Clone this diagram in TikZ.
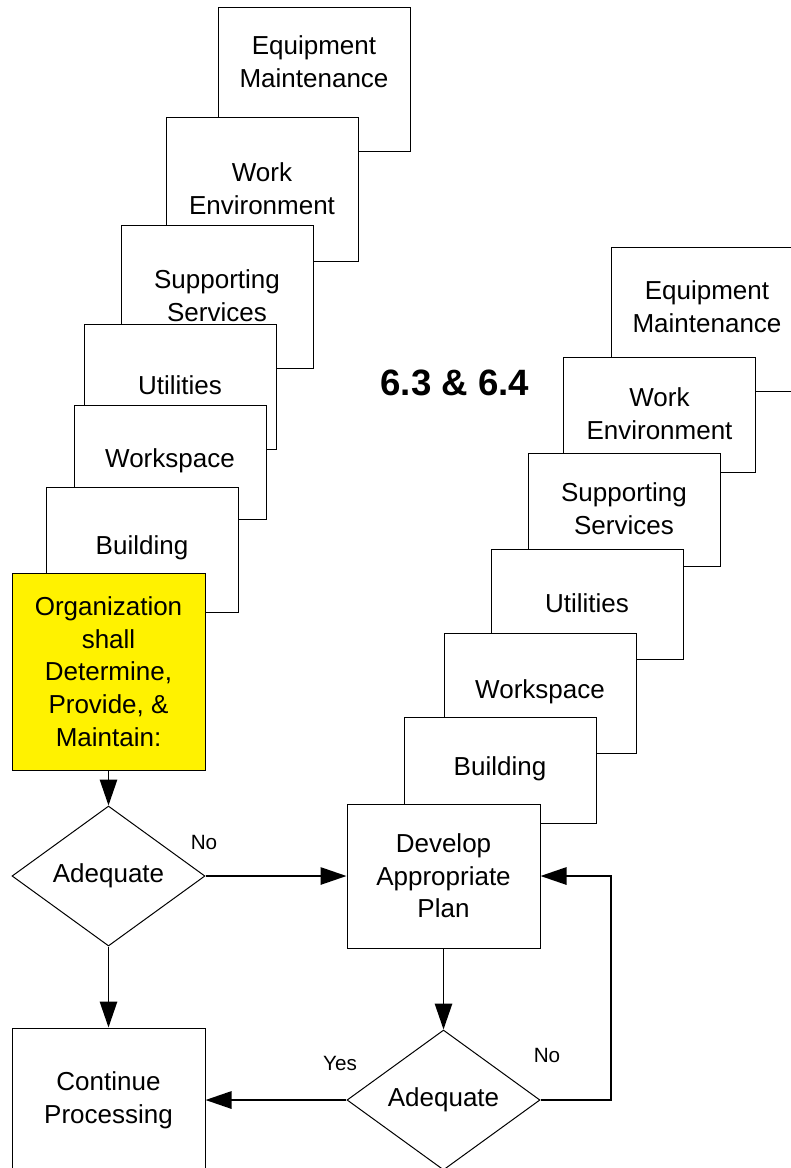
\documentclass[tikz,border=0pt]{standalone}
\usepackage{fontspec}
\setmainfont{Liberation Sans}
\usetikzlibrary{shapes.geometric}
\usetikzlibrary{arrows.meta}
\usetikzlibrary{positioning}

\tikzset{
  card/.style={draw=black, fill=white, line width=0.75pt},
  word/.style={align=center, inner sep=0pt, font=\fontsize{19.5}{24.5}\selectfont},
  flowbox/.style={word, draw=black, fill=white, line width=0.75pt, minimum width=144.75pt},
  test/.style={word, diamond, draw=black, fill=white, line width=0.75pt, minimum width=144.75pt, minimum height=105pt},
  tag/.style={inner sep=0pt, font=\fontsize{15.5}{18}\selectfont},
  flow/.style={line width=1.4pt, -{Triangle[length=19.5pt,width=13pt]}}
}

\begin{document}
\begin{tikzpicture}[x=0.75pt,y=-0.75pt]

    \useasboundingbox (0,0) rectangle (791,1168);
    \clip (0,0) rectangle (791,1168);

    % left stack
    \filldraw[card] (218,7) rectangle +(192,144);
    \node[word] (eqmA) at (314,62) {Equipment\\Maintenance};
    \filldraw[card] (166,117) rectangle +(192,144);
    \node[word] (envA) at (262,189) {Work\\Environment};
    \filldraw[card] (121,225) rectangle +(192,143);
    \node[word] (supA) at (217,296) {Supporting\\Services};
    \filldraw[card] (84,324) rectangle +(192,125);
    \node[word] (utilA) at (180,385) {Utilities};
    \filldraw[card] (74,405) rectangle +(192,114);
    \node[word] (wsA) at (170,461) {Workspace};
    \filldraw[card] (46,487) rectangle +(192,125);
    \node[word] (bldA) at (142,548) {Building};

    % right stack
    \filldraw[card] (611,247) rectangle +(192,144);
    \node[word] (eqmB) at (707,306.5) {Equipment\\Maintenance};
    \filldraw[card] (563,357) rectangle +(192,115);
    \node[word] (envB) at (659.5,414) {Work\\Environment};
    \filldraw[card] (528,453.5) rectangle +(192,112.5);
    \node[word] (supB) at (624,508.5) {Supporting\\Services};
    \filldraw[card] (491,549) rectangle +(192,110);
    \node[word] (utilB) at (587,603) {Utilities};
    \filldraw[card] (444,633) rectangle +(192,120);
    \node[word] (wsB) at (540,692) {Workspace};
    \filldraw[card] (404,717.5) rectangle +(192,105.5);
    \node[word] (bldB) at (500,769) {Building};

    \node[font=\bfseries\fontsize{27.5}{33}\selectfont, inner sep=0pt] (title) at (455,383) {6.3 \& 6.4};

    % flow
    \node[flowbox, fill=yellow, minimum height=147.75pt] (org) at (108.5,671.5)
    {Organization\\shall\\Determine,\\Provide, \&\\Maintain:};
    \node[test] (adA) at (108.5,876) {Adequate};
    \node[flowbox, minimum height=108pt] (dev) at (443.5,876) {Develop\\Appropriate\\Plan};
    \node[flowbox, minimum height=108pt] (cont) at (108.5,1100) {Continue\\Processing};
    \node[test] (adB) at (443.5,1100) {Adequate};
    \coordinate (back) at (611,1100);

    \node[tag] (noA) at (204,842) {No};
    \node[tag] (yes) at (340,1063) {Yes};
    \node[tag] (noB) at (547,1055) {No};

    \draw[flow] (org) -- (adA);
    \draw[flow] (adA) -- (dev);
    \draw[flow] (adA) -- (cont);
    \draw[flow] (dev) -- (adB);
    \draw[flow] (adB) -- (cont);
    \draw[flow] (adB.east) -- (back) |- (dev.east);
\end{tikzpicture}
\end{document}
